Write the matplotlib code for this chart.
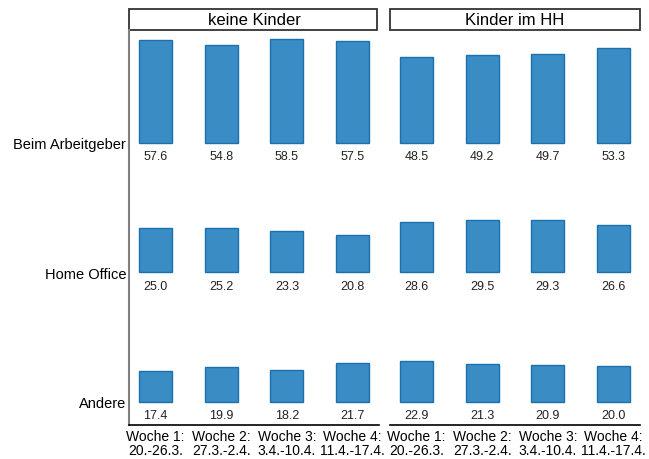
import matplotlib
matplotlib.use("Agg")
import matplotlib.pyplot as plt
from matplotlib.patches import Rectangle

plt.rcParams['font.family'] = ['Liberation Sans', 'DejaVu Sans']

panels = ["keine Kinder", "Kinder im HH"]
rows = ["Beim Arbeitgeber", "Home Office", "Andere"]
weeks = ["Woche 1:\n20.-26.3.", "Woche 2:\n27.3.-2.4.", "Woche 3:\n3.4.-10.4.", "Woche 4:\n11.4.-17.4."]

keine_arbeitgeber = [57.6, 54.8, 58.5, 57.5]
keine_homeoffice = [25.0, 25.2, 23.3, 20.8]
keine_andere = [17.4, 19.9, 18.2, 21.7]
kinder_arbeitgeber = [48.5, 49.2, 49.7, 53.3]
kinder_homeoffice = [28.6, 29.5, 29.3, 26.6]
kinder_andere = [22.9, 21.3, 20.9, 20.0]

data = [
    [keine_arbeitgeber, keine_homeoffice, keine_andere],
    [kinder_arbeitgeber, kinder_homeoffice, kinder_andere],
]

offsets = [146, 73, 0]
face = '#3a8cc4'
edge = '#1a70b0'

fig = plt.figure(figsize=(6.49, 4.60), dpi=100)
W, H = 649, 460
axes_px = [(129, 250), (390, 250)]
bottom_px, top_px = 426, 31

for p, (x0, w) in enumerate(axes_px):
    ax = fig.add_axes([x0 / W, (H - bottom_px) / H, w / W, (bottom_px - top_px) / H])
    xs = list(range(len(weeks)))
    for r, vals in enumerate(data[p]):
        off = offsets[r]
        ax.bar(xs, vals, width=0.5, bottom=off, color=face, edgecolor=edge, linewidth=1)
        for x, v in zip(xs, vals):
            ax.text(x, off - 7.6, f"{v:.1f}", ha='center', va='center', fontsize=9, color='#222222')
    ax.set_xlim(-0.4, 3.4)
    ax.set_ylim(-13, 209.5)
    ax.set_xticks(xs)
    ax.set_xticklabels(weeks, fontsize=10, linespacing=0.95)
    ax.tick_params(axis='x', length=0, pad=3)
    for s in ['top', 'right']:
        ax.spines[s].set_visible(False)
    ax.spines['bottom'].set_color('black')
    ax.spines['bottom'].set_linewidth(1.2)
    if p == 0:
        ax.set_yticks(offsets)
        ax.set_yticklabels(rows, fontsize=10.5)
        ax.tick_params(axis='y', length=0, pad=2)
        ax.spines['left'].set_color('#808080')
        ax.spines['left'].set_linewidth(1.5)
    else:
        ax.set_yticks([])
        ax.spines['left'].set_visible(False)
    sh = 21 / (bottom_px - top_px)
    ax.add_patch(Rectangle((0, 1.0), 1.0 - (2 / w if p == 0 else 0), sh, transform=ax.transAxes,
                           facecolor='white', edgecolor='#333333', linewidth=1.3, clip_on=False))
    ax.text(0.5, 1.0 + sh / 2, panels[p], transform=ax.transAxes, ha='center', va='center',
            fontsize=12)

fig.savefig("out.png", dpi=100)
